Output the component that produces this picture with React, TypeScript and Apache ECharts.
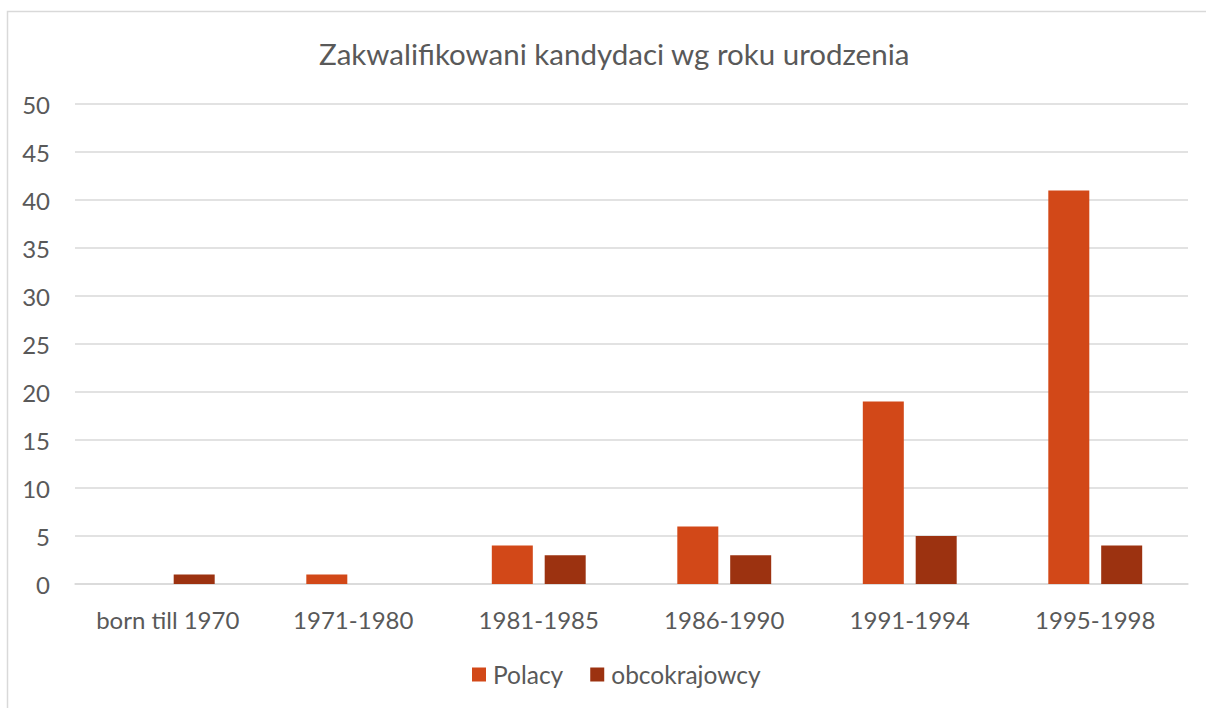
import React, { useEffect, useRef } from "react";
import * as echarts from "echarts";

const categories = ["born till 1970", "1971-1980", "1981-1985", "1986-1990", "1991-1994", "1995-1998"];
const polacy = [0, 1, 4, 6, 19, 41];
const obcokrajowcy = [1, 0, 3, 3, 5, 4];
const yTicks = { min: 0, max: 50, interval: 5 };

const FONT = "Lato, 'Open Sans', sans-serif";

export default function App() {
  const ref = useRef<HTMLDivElement>(null);
  useEffect(() => {
    if (!ref.current) return;
    const chart = echarts.init(ref.current, null, { renderer: "svg" });
    chart.setOption({
      animation: false,
      backgroundColor: "#ffffff",
      textStyle: { fontFamily: FONT },
      title: {
        text: "Zakwalifikowani kandydaci wg roku urodzenia",
        left: 314,
        top: 33,
        textStyle: { fontFamily: FONT, fontSize: 29.5, fontWeight: "normal", color: "#595959" },
      },
      graphic: [
        {
          type: "rect",
          shape: { x: 7.5, y: 11.5, width: 1300, height: 800 },
          style: { fill: "none", stroke: "#d9d9d9", lineWidth: 1.5 },
          silent: true,
        },
      ],
      legend: {
        bottom: 16,
        left: 467,
        itemWidth: 14,
        itemHeight: 14,
        itemGap: 27,
        icon: "rect",
        textStyle: { fontFamily: FONT, fontSize: 24.5, color: "#595959", padding: [0, 0, 0, 2] },
        data: ["Polacy", "obcokrajowcy"],
      },
      grid: { left: 75, right: 18, top: 104, bottom: 124, containLabel: false },
      xAxis: {
        type: "category",
        data: categories,
        axisLine: { lineStyle: { color: "#d9d9d9", width: 1.5 } },
        axisTick: { show: false },
        axisLabel: { fontFamily: FONT, fontSize: 24, color: "#595959", margin: 23, interval: 0, hideOverlap: false },
      },
      yAxis: {
        type: "value",
        min: yTicks.min,
        max: yTicks.max,
        interval: yTicks.interval,
        axisLine: { show: false },
        axisTick: { show: false },
        splitLine: { lineStyle: { color: "#d9d9d9", width: 1.5 } },
        axisLabel: { fontFamily: FONT, fontSize: 24, color: "#595959", margin: 25 },
      },
      series: [
        {
          name: "Polacy",
          type: "bar",
          data: polacy,
          barWidth: 41,
          barGap: "29%",
          itemStyle: { color: "#D24818" },
        },
        {
          name: "obcokrajowcy",
          type: "bar",
          data: obcokrajowcy,
          barWidth: 41,
          itemStyle: { color: "#9C3210" },
        },
      ],
    });
    return () => chart.dispose();
  }, []);
  return (
    <div
      ref={ref}
      style={{ position: "fixed", left: 0, top: 0, width: 1206, height: 708 }}
    />
  );
}
